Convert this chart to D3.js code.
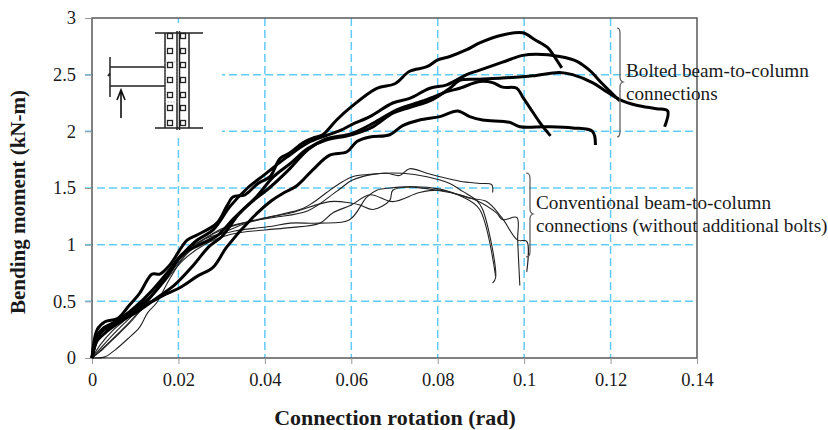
<!DOCTYPE html>
<html>
<head>
<meta charset="utf-8">
<script src="https://cdn.jsdelivr.net/npm/d3@7"></script>
<style>
  html, body { margin: 0; padding: 0; background: #fff; }
  text { font-family: "Liberation Serif", serif; fill: #1a1a1a; }
</style>
</head>
<body>
<svg id="chart" width="828" height="430"></svg>
<script>
// values: [rotation, moment]
const xTicks = [0, 0.02, 0.04, 0.06, 0.08, 0.1, 0.12, 0.14];
const yTicks = [0, 0.5, 1, 1.5, 2, 2.5, 3];

const boltedA = [[0,0],[0.0012,0.25],[0.003,0.32],[0.006,0.35],[0.0083,0.45],[0.011,0.57],[0.0139,0.74],[0.0157,0.74],[0.018,0.82],[0.022,1.04],[0.0243,1.085],[0.0289,1.19],[0.0312,1.34],[0.0326,1.42],[0.0354,1.44],[0.0384,1.54],[0.0412,1.6],[0.0435,1.76],[0.0458,1.81],[0.0488,1.9],[0.0511,1.94],[0.0534,1.97],[0.0566,2.1],[0.0601,2.22],[0.0659,2.38],[0.0701,2.42],[0.0735,2.53],[0.0775,2.57],[0.08,2.63],[0.0828,2.66],[0.0867,2.72],[0.0897,2.78],[0.095,2.85],[0.0997,2.87],[0.1024,2.81],[0.1054,2.74],[0.107,2.66],[0.1087,2.56]];
const boltedB = [[0,0],[0.001,0.16],[0.002,0.24],[0.005,0.31],[0.009,0.41],[0.013,0.52],[0.017,0.7],[0.02,0.87],[0.024,1.03],[0.028,1.13],[0.032,1.34],[0.036,1.5],[0.04,1.62],[0.045,1.77],[0.05,1.9],[0.054,1.96],[0.0576,2.01],[0.0601,2.06],[0.0643,2.13],[0.0696,2.25],[0.0735,2.29],[0.0782,2.38],[0.0821,2.41],[0.0867,2.5],[0.0897,2.54],[0.095,2.61],[0.0997,2.67],[0.1029,2.68],[0.1082,2.66],[0.1121,2.62],[0.1151,2.54],[0.1181,2.42],[0.1221,2.27]];
const boltedC = [[0,0],[0.001,0.14],[0.003,0.22],[0.007,0.33],[0.011,0.42],[0.015,0.53],[0.019,0.64],[0.0235,0.82],[0.027,0.98],[0.03,1.07],[0.034,1.27],[0.038,1.42],[0.042,1.6],[0.046,1.72],[0.05,1.85],[0.054,1.92],[0.0601,1.97],[0.065,2.04],[0.0696,2.16],[0.0735,2.21],[0.0788,2.28],[0.0828,2.38],[0.0851,2.45],[0.0897,2.46],[0.095,2.47],[0.102,2.49],[0.1082,2.52],[0.1112,2.5],[0.1158,2.43],[0.1191,2.35],[0.1221,2.28],[0.126,2.23],[0.1306,2.2],[0.1332,2.18],[0.1325,2.04]];
const boltedD = [[0,0],[0.001,0.18],[0.0025,0.26],[0.006,0.33],[0.01,0.45],[0.014,0.6],[0.018,0.78],[0.021,0.92],[0.025,1.0],[0.029,1.08],[0.033,1.24],[0.037,1.38],[0.041,1.5],[0.0455,1.66],[0.05,1.84],[0.054,1.93],[0.06,1.98],[0.065,2.07],[0.0705,2.19],[0.0751,2.25],[0.0788,2.3],[0.0821,2.35],[0.0851,2.38],[0.0897,2.44],[0.0927,2.43],[0.095,2.39],[0.0983,2.38],[0.0997,2.3],[0.1013,2.21],[0.1036,2.08],[0.1061,1.96]];
const boltedE = [[0,0],[0.0008,0.12],[0.002,0.22],[0.005,0.3],[0.009,0.4],[0.013,0.48],[0.0164,0.55],[0.0203,0.62],[0.0243,0.72],[0.028,0.8],[0.0312,0.98],[0.0372,1.24],[0.0416,1.39],[0.0445,1.46],[0.0474,1.52],[0.0511,1.66],[0.055,1.79],[0.059,1.82],[0.0613,1.91],[0.0643,1.95],[0.0689,1.97],[0.0719,2.05],[0.0758,2.1],[0.0805,2.13],[0.0846,2.18],[0.0874,2.13],[0.0904,2.1],[0.0966,2.08],[0.099,2.04],[0.1052,2.04],[0.1112,2.03],[0.1158,2.0],[0.1165,1.88]];

const conventionalA = [[0,0],[0.003,0.13],[0.006,0.25],[0.01,0.4],[0.014,0.57],[0.018,0.76],[0.022,0.95],[0.026,1.05],[0.03,1.1],[0.035,1.18],[0.0412,1.245],[0.0488,1.32],[0.0511,1.37],[0.0543,1.46],[0.0573,1.54],[0.0603,1.6],[0.0643,1.62],[0.0682,1.63],[0.0712,1.61],[0.0735,1.67],[0.0775,1.63],[0.0805,1.6],[0.0851,1.56],[0.0897,1.54],[0.0925,1.53],[0.0927,1.46]];
const conventionalB = [[0,0],[0.002,0.12],[0.005,0.25],[0.009,0.38],[0.013,0.55],[0.017,0.74],[0.021,0.9],[0.025,1.02],[0.03,1.14],[0.036,1.2],[0.042,1.24],[0.05,1.3],[0.0566,1.47],[0.0603,1.57],[0.065,1.62],[0.0719,1.63],[0.0775,1.6],[0.0828,1.54],[0.0858,1.47],[0.089,1.39],[0.0904,1.31],[0.0934,0.71],[0.0927,0.66]];
const conventionalC = [[0,0],[0.003,0.01],[0.0053,0.07],[0.0083,0.17],[0.011,0.27],[0.0129,0.4],[0.015,0.49],[0.018,0.7],[0.022,0.92],[0.027,1.05],[0.033,1.12],[0.0412,1.16],[0.0458,1.19],[0.0527,1.19],[0.0596,1.22],[0.0636,1.42],[0.0659,1.48],[0.0689,1.5],[0.0735,1.51],[0.0798,1.48],[0.0851,1.44],[0.089,1.39],[0.0936,1.28],[0.095,1.22],[0.0983,1.24],[0.0985,1.04],[0.099,0.64]];
const conventionalD = [[0,0],[0.004,0.14],[0.008,0.29],[0.012,0.46],[0.016,0.64],[0.02,0.84],[0.024,1.0],[0.03,1.13],[0.038,1.22],[0.046,1.28],[0.055,1.38],[0.0596,1.37],[0.062,1.35],[0.065,1.31],[0.0689,1.39],[0.0696,1.48],[0.0735,1.51],[0.0805,1.49],[0.0874,1.41],[0.0913,1.38],[0.0948,1.24],[0.0985,1.04],[0.1006,1.03],[0.1006,0.76]];
const conventionalE = [[0,0],[0.002,0.06],[0.005,0.17],[0.009,0.32],[0.013,0.5],[0.017,0.68],[0.021,0.86],[0.026,1.0],[0.032,1.09],[0.04,1.13],[0.0458,1.15],[0.0527,1.19],[0.0557,1.28],[0.06,1.35],[0.0643,1.44],[0.0696,1.38],[0.0758,1.46],[0.0805,1.48],[0.0858,1.42],[0.0897,1.31],[0.0934,0.72]];

const bolted = [boltedA, boltedB, boltedC, boltedD, boltedE];
const conventional = [conventionalA, conventionalB, conventionalC, conventionalD, conventionalE];

// inset drawing, rows of holes in the column sketch
const holeRows = [36, 51, 65, 80, 95, 108, 123];
const holeCols = [170, 183];

const svg = d3.select('#chart');
const x = d3.scaleLinear().domain([0, 0.14]).range([92, 697]);
const y = d3.scaleLinear().domain([0, 3]).range([358, 18]);

const gridColor = '#62cbf5';
const axisColor = '#5a5a5a';

// dashed grid
svg.selectAll('.gridx').data(xTicks.slice(1, -1)).enter().append('line')
  .attr('x1', d => x(d)).attr('x2', d => x(d))
  .attr('y1', y(3)).attr('y2', y(0))
  .attr('stroke', gridColor).attr('stroke-width', 1.5).attr('stroke-dasharray', '8,4');
svg.selectAll('.gridy').data(yTicks.slice(1, -1)).enter().append('line')
  .attr('x1', 85).attr('x2', x(0.14))
  .attr('y1', d => y(d)).attr('y2', d => y(d))
  .attr('stroke', gridColor).attr('stroke-width', 1.5).attr('stroke-dasharray', '8,4');

// the sketch sits on a white box that hides the grid
svg.append('rect').attr('x', 93).attr('y', 23).attr('width', 129).attr('height', 111).attr('fill', '#fff');

// frame and ticks
svg.append('path')
  .attr('d', 'M' + x(0) + ',' + y(0) + 'V' + y(3) + 'H' + x(0.14) + 'V' + y(0) + 'Z')
  .attr('fill', 'none').attr('stroke', axisColor).attr('stroke-width', 1.5);

const xAxis = d3.axisBottom(x).tickValues(xTicks).tickFormat(d3.format('~g')).tickSize(6).tickPadding(9);
const yAxis = d3.axisLeft(y).tickValues(yTicks).tickFormat(d3.format('~g')).tickSize(7).tickPadding(9);

const gx = svg.append('g').attr('transform', 'translate(0,' + y(0) + ')').call(xAxis);
const gy = svg.append('g').attr('transform', 'translate(' + x(0) + ',0)').call(yAxis);
gx.select('.domain').remove();
gy.select('.domain').remove();
gx.selectAll('line').attr('stroke', '#999');
gy.selectAll('line').attr('stroke', '#999');
gx.selectAll('text').style('font-size', '18.5px').style('font-family', '"Liberation Serif", serif').attr('fill', '#1a1a1a');
gy.selectAll('text').style('font-size', '18.5px').style('font-family', '"Liberation Serif", serif').attr('fill', '#1a1a1a');

// add the curves
const line = d3.line()
  .x(d => x(d[0]))
  .y(d => y(d[1]))
  .curve(d3.curveCatmullRom.alpha(0.5));

svg.selectAll('.thin').data(conventional).enter().append('path')
  .attr('d', line).attr('fill', 'none')
  .attr('stroke', '#222').attr('stroke-width', 1.1);

svg.selectAll('.thick').data(bolted).enter().append('path')
  .attr('d', line).attr('fill', 'none')
  .attr('stroke', '#000').attr('stroke-width', 3).attr('stroke-linejoin', 'round');

// axis titles
svg.append('text').attr('x', 395).attr('y', 425).attr('text-anchor', 'middle')
  .style('font-size', '22px').style('font-weight', 'bold').text('Connection rotation (rad)');
svg.append('text').attr('transform', 'translate(25,202) rotate(-90)').attr('text-anchor', 'middle')
  .style('font-size', '21px').style('font-weight', 'bold').text('Bending moment (kN-m)');

// braces and their notes
const braces = [
  'M617,28Q620,28 620,33V77Q620,81 623,82Q620,83 620,87V132Q620,137 617,137',
  'M526,173Q530,173 530,178V209Q530,213 533,214Q530,215 530,219V252Q530,257 526,257'
];
svg.selectAll('.brace').data(braces).enter().append('path')
  .attr('d', d => d).attr('fill', 'none').attr('stroke', '#555').attr('stroke-width', 1.2);

const notes = [
  { text: 'Bolted beam-to-column', px: 626, py: 77 },
  { text: 'connections', px: 626, py: 100 },
  { text: 'Conventional beam-to-column', px: 536, py: 209 },
  { text: 'connections (without additional bolts)', px: 536, py: 232 }
];
svg.selectAll('.note').data(notes).enter().append('text')
  .attr('x', d => d.px).attr('y', d => d.py)
  .style('font-size', '19.2px').text(d => d.text);

// column and beam sketch
const inset = svg.append('g').attr('fill', 'none').attr('stroke', '#222');
inset.append('path').attr('stroke-width', 1.5)
  .attr('d', 'M155,33H203M155,128H203M165,33V128M189,33V128M177,31V130M179.5,31V130');
inset.append('path').attr('stroke-width', 1.5)
  .attr('d', 'M110,57V97M110,67H165M110,86H165M108,76L110,73');
inset.append('rect').attr('x', 165).attr('y', 62).attr('width', 12).attr('height', 40)
  .attr('stroke', '#999').attr('stroke-width', 0.8).attr('stroke-dasharray', '1.5,1.5');
holeCols.forEach(c => {
  inset.selectAll(null).data(holeRows).enter().append('rect')
    .attr('x', c - 2.5).attr('y', d => d - 2.5).attr('width', 5).attr('height', 5)
    .attr('stroke-width', 1.3);
});
inset.append('path').attr('stroke', '#111').attr('stroke-width', 1.6)
  .attr('d', 'M121,118V91M117,100L121,90L125,100');
</script>
</body>
</html>
